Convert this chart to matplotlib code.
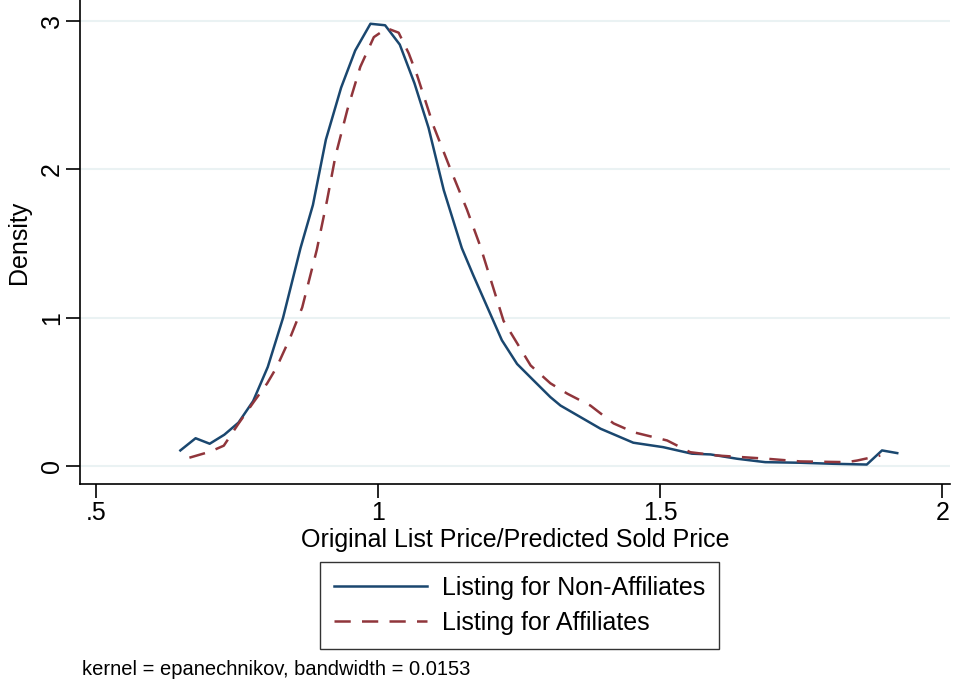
import matplotlib
matplotlib.use("Agg")
import matplotlib.pyplot as plt
import numpy as np

plt.rcParams['font.family'] = ['Liberation Sans', 'DejaVu Sans']

# kernel density estimates
x_non = [0.649, 0.676, 0.701, 0.727, 0.752, 0.778, 0.804, 0.831, 0.862, 0.884,
         0.907, 0.934, 0.959, 0.986, 1.012, 1.038, 1.064, 1.089, 1.116, 1.148,
         1.168, 1.219, 1.246, 1.275, 1.305, 1.323, 1.394, 1.452, 1.505, 1.556,
         1.589, 1.636, 1.686, 1.748, 1.807, 1.866, 1.893, 1.920]
y_non = [0.108, 0.190, 0.153, 0.214, 0.295, 0.440, 0.670, 1.000, 1.470, 1.760,
         2.200, 2.550, 2.800, 2.980, 2.970, 2.840, 2.580, 2.280, 1.860, 1.470,
         1.290, 0.850, 0.690, 0.580, 0.467, 0.410, 0.254, 0.160, 0.130, 0.086,
         0.081, 0.052, 0.029, 0.025, 0.018, 0.013, 0.108, 0.090]

x_aff = [0.665, 0.702, 0.726, 0.752, 0.779, 0.803, 0.820, 0.844, 0.865, 0.891,
         0.909, 0.924, 0.945, 0.968, 0.992, 1.015, 1.036, 1.054, 1.069, 1.098,
         1.128, 1.157, 1.181, 1.222, 1.270, 1.305, 1.335, 1.376, 1.417, 1.453,
         1.512, 1.553, 1.600, 1.689, 1.748, 1.831, 1.849, 1.890]
y_aff = [0.059, 0.100, 0.140, 0.288, 0.434, 0.560, 0.670, 0.870, 1.070, 1.460,
         1.790, 2.090, 2.400, 2.690, 2.890, 2.950, 2.920, 2.780, 2.630, 2.290,
         2.000, 1.730, 1.480, 0.980, 0.680, 0.560, 0.490, 0.410, 0.290, 0.230,
         0.175, 0.096, 0.074, 0.052, 0.034, 0.029, 0.040, 0.074]

xticks = [0.5, 1, 1.5, 2]
xtick_labels = ['.5', '1', '1.5', '2']
yticks = [0, 1, 2, 3]

navy = '#1a476f'
maroon = '#90353b'

fig = plt.figure(figsize=(9.56, 6.85), dpi=100)
ax = fig.add_axes([0.084, 0.293, 0.91, 0.707])

for yt in yticks:
    ax.axhline(yt, color='#eaf2f3', lw=1.5, zorder=0)

ax.plot(x_non, y_non, color=navy, lw=1.8, label='Listing for Non-Affiliates')
ax.plot(x_aff, y_aff, color=maroon, lw=1.8, dashes=(6.5, 4.5),
        label='Listing for Affiliates')

ax.set_xlim(0.4716, 2.014)
ax.set_ylim(-0.12, 3.14)
ax.set_xticks(xticks)
ax.set_xticklabels(xtick_labels)
ax.set_yticks(yticks)
ax.set_yticklabels([str(v) for v in yticks], rotation=90, va='center')

for s in ['top', 'right']:
    ax.spines[s].set_visible(False)
for s in ['left', 'bottom']:
    ax.spines[s].set_linewidth(1.2)
ax.tick_params(direction='out', length=10, width=1.2, labelsize=18, pad=2)

ax.set_xlabel('Original List Price/Predicted Sold Price', fontsize=18, labelpad=2)
ax.set_ylabel('Density', fontsize=18, labelpad=6)

leg = fig.legend(loc='center', bbox_to_anchor=(0.5434, 0.116),
                 fontsize=18, frameon=True, fancybox=False, handlelength=3.7,
                 borderpad=0.55, labelspacing=0.45, handletextpad=0.6,
                 borderaxespad=0.0)
leg.get_frame().set_edgecolor('black')
leg.get_frame().set_linewidth(1.0)

fig.text(0.086, 0.015, 'kernel = epanechnikov, bandwidth = 0.0153', fontsize=14.5)

fig.savefig('out.png', dpi=100, facecolor='white')
